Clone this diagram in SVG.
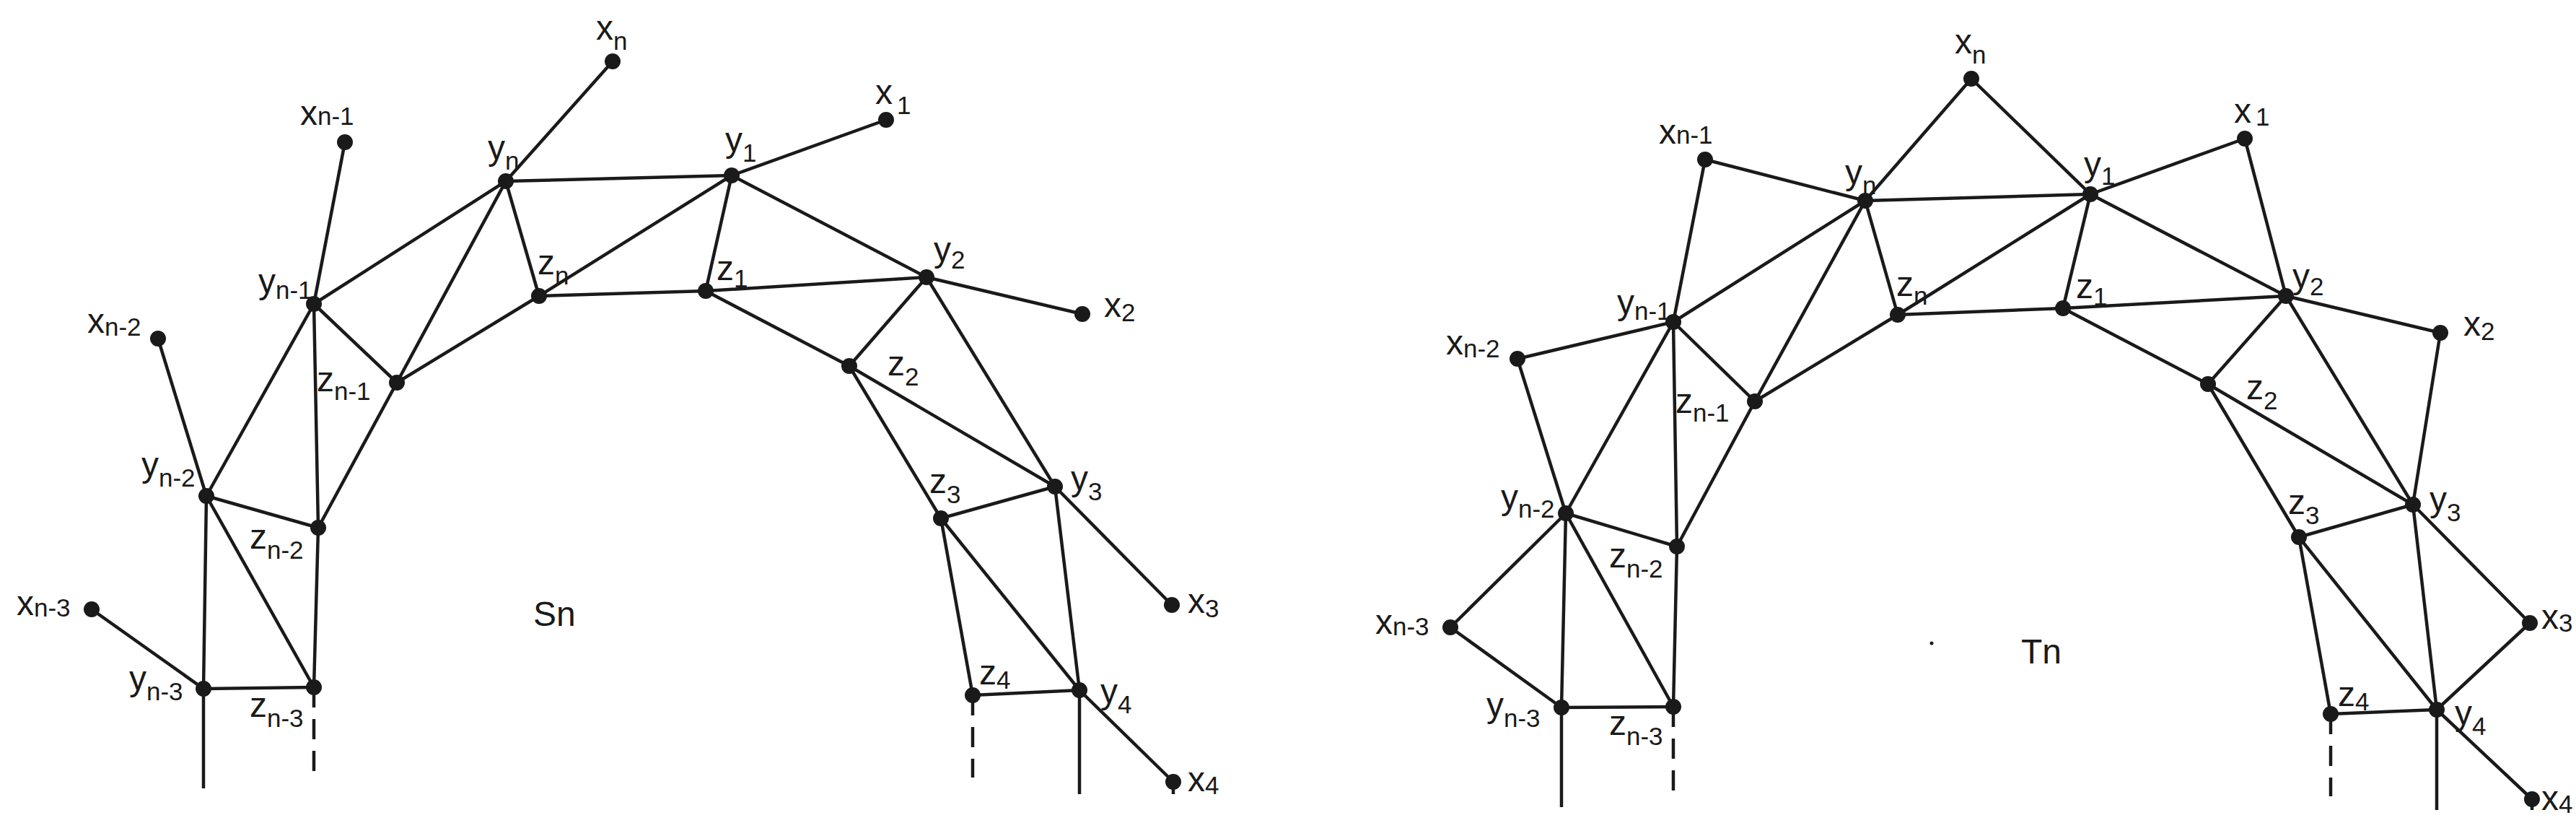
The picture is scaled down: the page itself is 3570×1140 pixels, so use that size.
<svg xmlns="http://www.w3.org/2000/svg" width="3570" height="1140" viewBox="0 0 3570 1140">
<style>
line{stroke:#1a1a1a;stroke-width:4.5}
.d{stroke-dasharray:28 16}
circle{fill:#1a1a1a}
text{font-family:"Liberation Sans",Arial,sans-serif;font-size:48px;fill:#1a1a1a}
.s{font-size:35px}
</style>
<rect width="3570" height="1140" fill="#fff"/>
<g id="connectors">
<line x1="849" y1="85" x2="701" y2="251"/><line x1="1228" y1="166" x2="1014" y2="243"/>
<line x1="478" y1="197" x2="435" y2="421"/><line x1="219" y1="469" x2="286" y2="687"/>
<line x1="127" y1="844" x2="282" y2="954"/><line x1="1500" y1="435" x2="1284" y2="384"/>
<line x1="1624" y1="838" x2="1462" y2="674"/><line x1="1626" y1="1083" x2="1496" y2="956"/>
<line x1="1626" y1="1083" x2="1626" y2="1100"/>
<line x1="701" y1="251" x2="1014" y2="243"/><line x1="1014" y1="243" x2="1284" y2="384"/>
<line x1="701" y1="251" x2="435" y2="421"/><line x1="701" y1="251" x2="747" y2="410"/>
<line x1="701" y1="251" x2="550" y2="530"/><line x1="1014" y1="243" x2="747" y2="410"/>
<line x1="1014" y1="243" x2="978" y2="403"/><line x1="747" y1="410" x2="978" y2="403"/>
<line x1="978" y1="403" x2="1284" y2="384"/><line x1="978" y1="403" x2="1177" y2="507"/>
<line x1="1284" y1="384" x2="1177" y2="507"/><line x1="1284" y1="384" x2="1462" y2="674"/>
<line x1="1177" y1="507" x2="1462" y2="674"/><line x1="1177" y1="507" x2="1304" y2="718"/>
<line x1="435" y1="421" x2="550" y2="530"/><line x1="550" y1="530" x2="747" y2="410"/>
<line x1="435" y1="421" x2="286" y2="687"/><line x1="435" y1="421" x2="441" y2="731"/>
<line x1="550" y1="530" x2="441" y2="731"/><line x1="286" y1="687" x2="441" y2="731"/>
<line x1="286" y1="687" x2="282" y2="954"/><line x1="286" y1="687" x2="435" y2="952"/>
<line x1="441" y1="731" x2="435" y2="952"/><line x1="282" y1="954" x2="435" y2="952"/>
<line x1="1304" y1="718" x2="1462" y2="674"/><line x1="1304" y1="718" x2="1348" y2="963"/>
<line x1="1304" y1="718" x2="1496" y2="956"/><line x1="1462" y1="674" x2="1496" y2="956"/>
<line x1="1348" y1="963" x2="1496" y2="956"/>
<line x1="282" y1="954" x2="282" y2="1092"/>
<line x1="1496" y1="956" x2="1496" y2="1100"/>
<line class="d" x1="435" y1="952" x2="435" y2="1077"/><line class="d" x1="1348" y1="963" x2="1348" y2="1077"/>
<line x1="2732" y1="109" x2="2585" y2="278"/><line x1="2732" y1="109" x2="2897" y2="269"/>
<line x1="2363" y1="221" x2="2585" y2="278"/><line x1="2363" y1="221" x2="2319" y2="446"/>
<line x1="3111" y1="192" x2="2897" y2="269"/><line x1="3111" y1="192" x2="3168" y2="410"/>
<line x1="3382" y1="461" x2="3168" y2="410"/><line x1="3382" y1="461" x2="3344" y2="699"/>
<line x1="2103" y1="497" x2="2319" y2="446"/><line x1="2103" y1="497" x2="2170" y2="711"/>
<line x1="2010" y1="869" x2="2170" y2="711"/><line x1="2010" y1="869" x2="2164" y2="980"/>
<line x1="3506" y1="863" x2="3344" y2="699"/><line x1="3506" y1="863" x2="3377" y2="983"/>
<line x1="3509" y1="1107" x2="3377" y2="983"/><line x1="3509" y1="1107" x2="3509" y2="1122"/>
<line x1="2585" y1="278" x2="2897" y2="269"/><line x1="2585" y1="278" x2="2319" y2="446"/>
<line x1="2585" y1="278" x2="2630" y2="436"/><line x1="2585" y1="278" x2="2432" y2="556"/>
<line x1="2897" y1="269" x2="2630" y2="436"/><line x1="2897" y1="269" x2="2859" y2="427"/>
<line x1="2897" y1="269" x2="3168" y2="410"/><line x1="2630" y1="436" x2="2859" y2="427"/>
<line x1="2859" y1="427" x2="3168" y2="410"/><line x1="2859" y1="427" x2="3060" y2="532"/>
<line x1="3168" y1="410" x2="3060" y2="532"/><line x1="3168" y1="410" x2="3344" y2="699"/>
<line x1="3060" y1="532" x2="3344" y2="699"/><line x1="3060" y1="532" x2="3186" y2="744"/>
<line x1="2319" y1="446" x2="2432" y2="556"/><line x1="2319" y1="446" x2="2324" y2="757"/>
<line x1="2319" y1="446" x2="2170" y2="711"/><line x1="2432" y1="556" x2="2630" y2="436"/>
<line x1="2432" y1="556" x2="2324" y2="757"/><line x1="2170" y1="711" x2="2324" y2="757"/>
<line x1="2170" y1="711" x2="2319" y2="979"/><line x1="2170" y1="711" x2="2164" y2="980"/>
<line x1="2324" y1="757" x2="2319" y2="979"/><line x1="2164" y1="980" x2="2319" y2="979"/>
<line x1="3186" y1="744" x2="3344" y2="699"/><line x1="3186" y1="744" x2="3230" y2="989"/>
<line x1="3186" y1="744" x2="3377" y2="983"/><line x1="3344" y1="699" x2="3377" y2="983"/>
<line x1="3230" y1="989" x2="3377" y2="983"/>
<line x1="2164" y1="980" x2="2164" y2="1118"/><line x1="3377" y1="983" x2="3377" y2="1122"/>
<line class="d" x1="2319" y1="979" x2="2319" y2="1103"/><line class="d" x1="3230" y1="989" x2="3230" y2="1103"/>
</g>
<g id="Sn">
<circle cx="849" cy="85" r="11"/><circle cx="1228" cy="166" r="11"/><circle cx="478" cy="197" r="11"/>
<circle cx="701" cy="251" r="11"/><circle cx="1014" cy="243" r="11"/><circle cx="747" cy="410" r="11"/>
<circle cx="978" cy="403" r="11"/><circle cx="1284" cy="384" r="11"/><circle cx="1500" cy="435" r="11"/>
<circle cx="435" cy="421" r="11"/><circle cx="219" cy="469" r="11"/><circle cx="550" cy="530" r="11"/>
<circle cx="1177" cy="507" r="11"/><circle cx="286" cy="687" r="11"/><circle cx="441" cy="731" r="11"/>
<circle cx="1462" cy="674" r="11"/><circle cx="1304" cy="718" r="11"/><circle cx="1624" cy="838" r="11"/>
<circle cx="127" cy="844" r="11"/><circle cx="282" cy="954" r="11"/><circle cx="435" cy="952" r="11"/>
<circle cx="1348" cy="963" r="11"/><circle cx="1496" cy="956" r="11"/><circle cx="1626" cy="1083" r="11"/>
<text x="826" y="55">x<tspan class="s" dy="14">n</tspan></text>
<text x="1213" y="144">x<tspan class="s" dx="6" dy="14">1</tspan></text>
<text x="416" y="173">x<tspan class="s">n-1</tspan></text>
<text x="676" y="221">y<tspan class="s" dy="14">n</tspan></text>
<text x="1005" y="210">y<tspan class="s" dy="14">1</tspan></text>
<text x="745" y="380">z<tspan class="s" dy="14">n</tspan></text>
<text x="993" y="388">z<tspan class="s" dy="10">1</tspan></text>
<text x="1294" y="362">y<tspan class="s" dy="10">2</tspan></text>
<text x="1530" y="439">x<tspan class="s" dy="6">2</tspan></text>
<text x="358" y="406">y<tspan class="s" dy="8">n-1</tspan></text>
<text x="121" y="461">x<tspan class="s" dy="4">n-2</tspan></text>
<text x="439" y="542">z<tspan class="s" dy="12">n-1</tspan></text>
<text x="1230" y="520">z<tspan class="s" dy="14">2</tspan></text>
<text x="196" y="660">y<tspan class="s" dy="14">n-2</tspan></text>
<text x="346" y="760">z<tspan class="s" dy="14">n-2</tspan></text>
<text x="1484" y="679">y<tspan class="s" dy="14">3</tspan></text>
<text x="1288" y="683">z<tspan class="s" dy="14">3</tspan></text>
<text x="1646" y="849">x<tspan class="s" dy="6">3</tspan></text>
<text x="23" y="852">x<tspan class="s" dy="2">n-3</tspan></text>
<text x="739" y="867">Sn</text>
<text x="179" y="956">y<tspan class="s" dy="14">n-3</tspan></text>
<text x="346" y="993">z<tspan class="s" dy="14">n-3</tspan></text>
<text x="1357" y="948">z<tspan class="s" dy="6">4</tspan></text>
<text x="1525" y="974">y<tspan class="s" dy="14">4</tspan></text>
<text x="1646" y="1096">x<tspan class="s" dy="4">4</tspan></text>
</g>
<g id="Tn">
<circle cx="2732" cy="109" r="11"/><circle cx="2363" cy="221" r="11"/><circle cx="3111" cy="192" r="11"/>
<circle cx="2585" cy="278" r="11"/><circle cx="2897" cy="269" r="11"/><circle cx="2630" cy="436" r="11"/>
<circle cx="2859" cy="427" r="11"/><circle cx="3168" cy="410" r="11"/><circle cx="3382" cy="461" r="11"/>
<circle cx="2319" cy="446" r="11"/><circle cx="2103" cy="497" r="11"/><circle cx="2432" cy="556" r="11"/>
<circle cx="3060" cy="532" r="11"/><circle cx="2170" cy="711" r="11"/><circle cx="2324" cy="757" r="11"/>
<circle cx="3344" cy="699" r="11"/><circle cx="3186" cy="744" r="11"/><circle cx="3506" cy="863" r="11"/>
<circle cx="2010" cy="869" r="11"/><circle cx="2164" cy="980" r="11"/><circle cx="2319" cy="979" r="11"/>
<circle cx="3230" cy="989" r="11"/><circle cx="3377" cy="983" r="11"/><circle cx="3509" cy="1107" r="11"/>
<circle cx="2677" cy="891" r="2.5"/>
<text x="2709" y="74">x<tspan class="s" dy="14">n</tspan></text>
<text x="2299" y="199">x<tspan class="s">n-1</tspan></text>
<text x="3096" y="170">x<tspan class="s" dx="6" dy="4">1</tspan></text>
<text x="2557" y="255">y<tspan class="s" dy="14">n</tspan></text>
<text x="2888" y="244">y<tspan class="s" dy="12">1</tspan></text>
<text x="2628" y="410">z<tspan class="s" dy="12">n</tspan></text>
<text x="2877" y="413">z<tspan class="s" dy="10">1</tspan></text>
<text x="3177" y="399">y<tspan class="s" dy="10">2</tspan></text>
<text x="3414" y="465">x<tspan class="s" dy="6">2</tspan></text>
<text x="2241" y="435">y<tspan class="s" dy="8">n-1</tspan></text>
<text x="2004" y="491">x<tspan class="s" dy="4">n-2</tspan></text>
<text x="2322" y="572">z<tspan class="s" dy="12">n-1</tspan></text>
<text x="3113" y="553">z<tspan class="s" dy="14">2</tspan></text>
<text x="2080" y="705">y<tspan class="s" dy="12">n-2</tspan></text>
<text x="2230" y="786">z<tspan class="s" dy="14">n-2</tspan></text>
<text x="3367" y="708">y<tspan class="s" dy="14">3</tspan></text>
<text x="3171" y="712">z<tspan class="s" dy="14">3</tspan></text>
<text x="3522" y="871">x<tspan class="s" dy="4">3</tspan></text>
<text x="1906" y="878">x<tspan class="s" dy="2">n-3</tspan></text>
<text x="2801" y="919">Tn</text>
<text x="2060" y="993">y<tspan class="s" dy="14">n-3</tspan></text>
<text x="2230" y="1018">z<tspan class="s" dy="14">n-3</tspan></text>
<text x="3240" y="978">z<tspan class="s" dy="6">4</tspan></text>
<text x="3402" y="1004">y<tspan class="s" dy="14">4</tspan></text>
<text x="3522" y="1122">x<tspan class="s" dy="4">4</tspan></text>
</g>
</svg>
